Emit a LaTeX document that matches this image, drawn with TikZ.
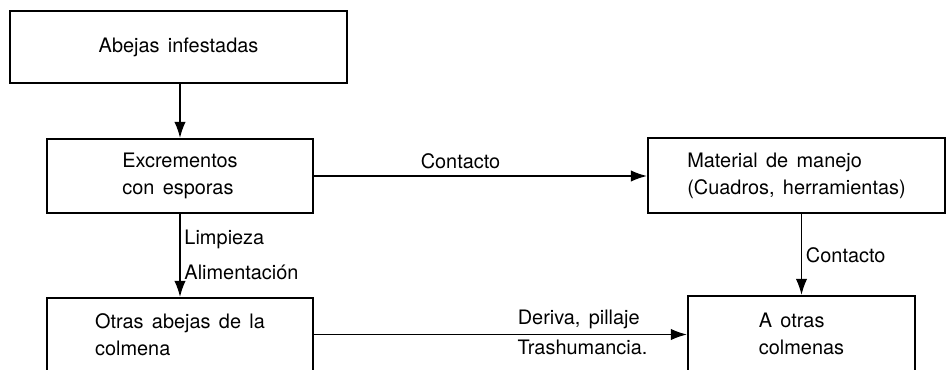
\documentclass[tikz,border=0pt]{standalone}
\usepackage{fontspec}
\setmainfont{TeX Gyre Heros}[WordSpace=1.5]
\usetikzlibrary{arrows.meta}
\usetikzlibrary{positioning}

\tikzset{
  caja/.style={draw, line width=2pt, align=left, inner sep=0pt,
    font=\fontsize{17}{23}\selectfont},
  flecha/.style={line width=1pt, -{Latex[length=4.8mm,width=3.4mm]}},
  rotulo/.style={font=\fontsize{17}{23}\selectfont}
}

\begin{document}
\begin{tikzpicture}[x=0.03cm, y=-0.03cm]
\def\u{0.03cm}
\useasboundingbox (0,0) rectangle (946,370);
\clip (0,0) rectangle (946,370);

\node[caja, minimum width=337*\u, minimum height=72*\u] (abejas) at (178.5,47) {Abejas infestadas};
\node[caja, minimum width=266*\u, minimum height=74*\u] (excrementos) at (180,176) {Excrementos\\con esporas};
\node[caja, minimum width=266*\u, minimum height=73*\u] (otras) at (180,334.5) {Otras abejas de la\\colmena};
\node[caja, minimum width=297*\u, minimum height=75*\u] (material) at (796.5,175.5) {Material de manejo\\(Cuadros, herramientas)};
\node[caja, minimum width=227*\u, minimum height=75*\u] (colmenas) at (801.5,333.5) {A otras\\colmenas};

\draw[flecha] (abejas.south -| excrementos.north) -- (excrementos.north);
\draw[flecha] (excrementos.south) -- (otras.north)
  node[rotulo, right, pos=0.31] {Limpieza}
  node[rotulo, right, pos=0.71] {Alimentación};
\draw[flecha] (excrementos.east) -- (excrementos.east -| material.west)
  node[rotulo, above=2pt, pos=0.44] {Contacto};
\draw[flecha] (material.south -| colmenas.north) -- (colmenas.north)
  node[rotulo, right, pos=0.51] {Contacto};
\draw[flecha] (otras.east) -- (otras.east -| colmenas.west)
  node[rotulo, above=1pt, pos=0.71] {Deriva, pillaje}
  node[rotulo, below=1pt, pos=0.72] {Trashumancia.};
\end{tikzpicture}
\end{document}
